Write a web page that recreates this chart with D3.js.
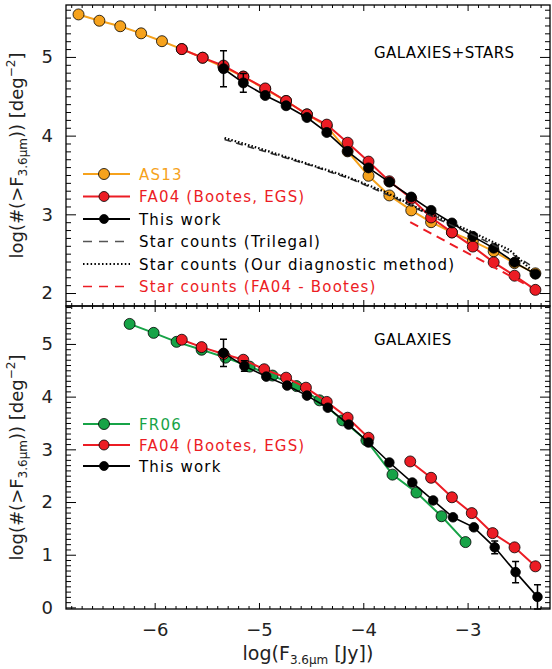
<!DOCTYPE html>
<html>
<head>
<meta charset="utf-8">
<script src="https://cdn.jsdelivr.net/npm/d3@7"></script>
<style>
  body { margin: 0; background: #fff; }
  svg { display: block; font-family: "DejaVu Sans", sans-serif; }
</style>
</head>
<body>
<div id="chart"></div>
<script>
// ---- data: [log F, log N, err] ----
const xTicks = [-6, -5, -4, -3];
const topYTicks = [2, 3, 4, 5];
const bottomYTicks = [0, 1, 2, 3, 4, 5];

const as13 = [
  [-6.73, 5.54], [-6.53, 5.46], [-6.33, 5.39], [-6.13, 5.30], [-5.93, 5.20],
  [-5.74, 5.10], [-5.54, 4.99], [-5.34, 4.87], [-5.15, 4.75], [-4.94, 4.59],
  [-4.74, 4.44], [-4.54, 4.27], [-4.35, 4.12], [-4.15, 3.80], [-3.95, 3.49],
  [-3.75, 3.24], [-3.54, 3.05], [-3.35, 2.90], [-3.15, 2.77], [-2.95, 2.66],
  [-2.75, 2.53], [-2.55, 2.38], [-2.35, 2.25]
];
const fa04Top = [
  [-5.74, 5.10], [-5.54, 4.99], [-5.34, 4.89], [-5.15, 4.75], [-4.94, 4.60],
  [-4.74, 4.44], [-4.54, 4.27], [-4.35, 4.14], [-4.15, 3.91], [-3.95, 3.67],
  [-3.75, 3.42], [-3.54, 3.20], [-3.35, 2.96], [-3.15, 2.77], [-2.95, 2.59],
  [-2.75, 2.39], [-2.55, 2.22], [-2.35, 2.04]
];
const thisWorkTop = [
  [-5.34, 4.85, 0.23], [-5.15, 4.67, 0.12], [-4.94, 4.51, 0], [-4.74, 4.38, 0],
  [-4.54, 4.23, 0], [-4.35, 4.04, 0], [-4.15, 3.80, 0], [-3.95, 3.59, 0],
  [-3.75, 3.41, 0], [-3.54, 3.22, 0], [-3.35, 3.05, 0], [-3.15, 2.89, 0],
  [-2.95, 2.72, 0], [-2.75, 2.57, 0], [-2.55, 2.39, 0], [-2.35, 2.24, 0]
];
const starsTrilegal = [
  [-5.33, 3.95], [-4.9, 3.78], [-4.5, 3.62], [-4.1, 3.44], [-3.7, 3.21],
  [-3.3, 2.95], [-2.9, 2.71], [-2.5, 2.44], [-2.37, 2.33]
];
const starsDiagnostic = [
  [-5.33, 3.97], [-5.0, 3.84], [-4.6, 3.67], [-4.2, 3.50], [-3.8, 3.29],
  [-3.4, 3.03], [-3.0, 2.80], [-2.6, 2.55], [-2.37, 2.27]
];
const starsFa04 = [[-3.55, 2.90], [-2.40, 2.08]];

const fr06 = [
  [-6.24, 5.38], [-6.01, 5.21], [-5.79, 5.04], [-5.55, 4.89], [-5.32, 4.74],
  [-5.09, 4.57], [-4.87, 4.40], [-4.64, 4.20], [-4.42, 3.93], [-4.20, 3.55],
  [-3.97, 3.17], [-3.72, 2.52], [-3.49, 2.18], [-3.25, 1.73], [-3.02, 1.24]
];
const fa04BottomA = [
  [-5.74, 5.08], [-5.55, 4.94], [-5.34, 4.81], [-5.15, 4.70], [-4.95, 4.52],
  [-4.74, 4.36], [-4.55, 4.17], [-4.35, 3.90], [-4.15, 3.60], [-3.95, 3.22]
];
const fa04BottomB = [
  [-3.55, 2.77], [-3.35, 2.46], [-3.15, 2.09], [-2.96, 1.79], [-2.76, 1.41],
  [-2.55, 1.14], [-2.35, 0.78]
];
const thisWorkBottom = [
  [-5.34, 4.83, 0.26], [-5.14, 4.58, 0.1], [-4.93, 4.38, 0], [-4.73, 4.21, 0],
  [-4.54, 4.02, 0], [-4.34, 3.79, 0], [-4.14, 3.47, 0], [-3.95, 3.13, 0],
  [-3.75, 2.75, 0], [-3.53, 2.37, 0], [-3.33, 2.03, 0], [-3.14, 1.71, 0],
  [-2.94, 1.52, 0], [-2.74, 1.14, 0.12], [-2.54, 0.67, 0.2], [-2.33, 0.20, 0.23]
];

const ORANGE = "#f6a21c";
const RED = "#ec1c24";
const GREEN = "#17a347";

const width = 552, height = 669;
const left = 66, right = 550;
const topPanel = { y0: 5, y1: 306, domain: [1.835, 5.66] };
const botPanel = { y0: 306, y1: 609, domain: [-0.03, 5.72] };

const svg = d3.select("#chart").append("svg")
  .attr("width", width).attr("height", height);

const x = d3.scaleLinear().domain([-6.85, -2.21]).range([left, right]);
const minorX = d3.range(-68, -22).map(d => d / 10).filter(d => Math.abs(d - Math.round(d)) > 1e-6);

function drawFrame(p, yTicks, showX) {
  const y = d3.scaleLinear().domain(p.domain).range([p.y1, p.y0]);
  const g = svg.append("g");
  const minorY = d3.range(Math.ceil(p.domain[0] * 10), Math.floor(p.domain[1] * 10) + 1)
    .map(d => d / 10).filter(d => Math.abs(d - Math.round(d)) > 1e-6);

  // bottom & top x axes, ticks inside
  g.append("g").attr("transform", `translate(0,${p.y1})`)
    .call(d3.axisBottom(x).tickValues(xTicks).tickSize(-6).tickPadding(14)
      .tickFormat(showX ? d3.format("d") : ""));
  g.append("g").attr("transform", `translate(0,${p.y1})`)
    .call(d3.axisBottom(x).tickValues(minorX).tickSize(-3).tickFormat(""));
  g.append("g").attr("transform", `translate(0,${p.y0})`)
    .call(d3.axisTop(x).tickValues(xTicks).tickSize(-6).tickFormat(""));
  g.append("g").attr("transform", `translate(0,${p.y0})`)
    .call(d3.axisTop(x).tickValues(minorX).tickSize(-3).tickFormat(""));

  // left & right y axes
  g.append("g").attr("transform", `translate(${left},0)`)
    .call(d3.axisLeft(y).tickValues(yTicks).tickSize(-10).tickPadding(13).tickFormat(d3.format("d")));
  g.append("g").attr("transform", `translate(${left},0)`)
    .call(d3.axisLeft(y).tickValues(minorY).tickSize(-5).tickFormat(""));
  g.append("g").attr("transform", `translate(${right},0)`)
    .call(d3.axisRight(y).tickValues(yTicks).tickSize(-10).tickFormat(""));
  g.append("g").attr("transform", `translate(${right},0)`)
    .call(d3.axisRight(y).tickValues(minorY).tickSize(-5).tickFormat(""));

  g.selectAll(".domain").remove();
  g.selectAll(".tick line").attr("stroke", "#000").attr("stroke-width", 1);
  g.selectAll(".tick text").attr("font-size", "18px").attr("fill", "#222")
    .attr("font-family", "DejaVu Sans, sans-serif");

  svg.append("rect")
    .attr("x", left).attr("y", p.y0)
    .attr("width", right - left).attr("height", p.y1 - p.y0)
    .attr("fill", "none").attr("stroke", "#000").attr("stroke-width", 1.3);
  return y;
}

const yTop = drawFrame(topPanel, topYTicks, false);
const yBot = drawFrame(botPanel, bottomYTicks, true);

function series(y, data, color, r, lw) {
  const line = d3.line().x(d => x(d[0])).y(d => y(d[1]));
  svg.append("path").datum(data).attr("d", line)
    .attr("fill", "none").attr("stroke", color).attr("stroke-width", lw);
  const errs = data.filter(d => d[2]);
  svg.selectAll(null).data(errs).join("path")
    .attr("d", d => {
      const cx = x(d[0]), a = y(d[1] + d[2]), b = y(d[1] - d[2]);
      return `M${cx},${a}V${b}M${cx - 3.5},${a}H${cx + 3.5}M${cx - 3.5},${b}H${cx + 3.5}`;
    })
    .attr("fill", "none").attr("stroke", "#000").attr("stroke-width", 1.5);
  svg.selectAll(null).data(data).join("circle")
    .attr("cx", d => x(d[0])).attr("cy", d => y(d[1])).attr("r", r)
    .attr("fill", color).attr("stroke", "#000").attr("stroke-width", 0.8);
}

function curve(y, data, color, dash, lw) {
  const line = d3.line().x(d => x(d[0])).y(d => y(d[1]));
  svg.append("path").datum(data).attr("d", line)
    .attr("fill", "none").attr("stroke", color).attr("stroke-width", lw)
    .attr("stroke-dasharray", dash);
}

// top panel
series(yTop, as13, ORANGE, 5.5, 2);
series(yTop, fa04Top, RED, 5.5, 2);
series(yTop, thisWorkTop, "#000", 5, 1.6);
curve(yTop, starsTrilegal, "#333", "7,5", 1.6);
curve(yTop, starsDiagnostic, "#000", "1.5,2", 2.2);
curve(yTop, starsFa04, RED, "9,6", 2);

// bottom panel
series(yBot, fr06, GREEN, 5.5, 2);
series(yBot, fa04BottomA, RED, 5.5, 2);
series(yBot, fa04BottomB, RED, 5.5, 2);
series(yBot, thisWorkBottom, "#000", 4.8, 1.6);

// panel labels
svg.append("text").attr("x", 374).attr("y", 58).attr("font-size", "15px")
  .attr("letter-spacing", "0.4px").text("GALAXIES+STARS");
svg.append("text").attr("x", 374).attr("y", 345).attr("font-size", "15px")
  .attr("letter-spacing", "0.4px").text("GALAXIES");

// legends
const topLegend = [
  { label: "AS13", color: ORANGE, text: ORANGE, type: "marker", r: 5.5 },
  { label: "FA04 (Bootes, EGS)", color: RED, text: RED, type: "marker", r: 5 },
  { label: "This work", color: "#000", text: "#000", type: "marker", r: 4.5 },
  { label: "Star counts (Trilegal)", color: "#555", text: "#000", type: "dash" },
  { label: "Star counts (Our diagnostic method)", color: "#000", text: "#000", type: "dot" },
  { label: "Star counts (FA04 - Bootes)", color: RED, text: RED, type: "dash" }
];
const bottomLegend = [
  { label: "FR06", color: GREEN, text: GREEN, type: "marker", r: 5.5 },
  { label: "FA04 (Bootes, EGS)", color: RED, text: RED, type: "marker", r: 5 },
  { label: "This work", color: "#000", text: "#000", type: "marker", r: 4.5 }
];

function legend(items, y0, step) {
  items.forEach((d, i) => {
    const yy = y0 + i * step;
    const ln = svg.append("line").attr("x1", 83).attr("x2", 130)
      .attr("y1", yy).attr("y2", yy).attr("stroke", d.color);
    if (d.type === "marker") {
      ln.attr("stroke-width", 2);
      svg.append("circle").attr("cx", 104).attr("cy", yy).attr("r", d.r)
        .attr("fill", d.color).attr("stroke", "#000").attr("stroke-width", 0.8);
    } else if (d.type === "dash") {
      ln.attr("stroke-width", 1.6).attr("stroke-dasharray", "9,7");
    } else {
      ln.attr("stroke-width", 2).attr("stroke-dasharray", "1.5,2.3");
    }
    svg.append("text").attr("x", 139).attr("y", yy + 5.5)
      .attr("font-size", "15px").attr("letter-spacing", "1.2px")
      .attr("fill", d.text).text(d.label);
  });
}
legend(topLegend, 174, 22.5);
legend(bottomLegend, 424, 21);

// axis titles
function yTitle(cy) {
  const t = svg.append("text")
    .attr("transform", `translate(23,${cy}) rotate(-90)`)
    .attr("text-anchor", "middle").attr("font-size", "18px").attr("fill", "#222");
  t.append("tspan").text("log(#(>F");
  t.append("tspan").attr("font-size", "12px").attr("dy", 4).text("3.6μm");
  t.append("tspan").attr("dy", -4).text("))  [deg");
  t.append("tspan").attr("font-size", "12px").attr("dy", -8).text("−2");
  t.append("tspan").attr("dy", 8).text("]");
}
yTitle((topPanel.y0 + topPanel.y1) / 2);
yTitle((botPanel.y0 + botPanel.y1) / 2);

const xt = svg.append("text").attr("x", (left + right) / 2).attr("y", 660)
  .attr("text-anchor", "middle").attr("font-size", "19px").attr("fill", "#222");
xt.append("tspan").text("log(F");
xt.append("tspan").attr("font-size", "12px").attr("dy", 4).text("3.6μm");
xt.append("tspan").attr("dy", -4).text("  [Jy])");
</script>
</body>
</html>
